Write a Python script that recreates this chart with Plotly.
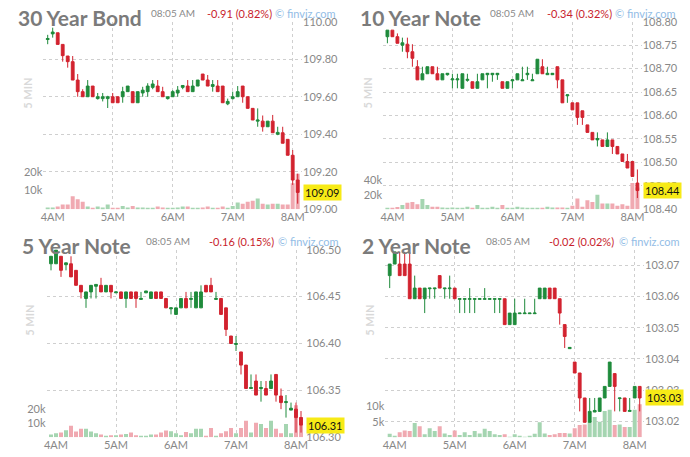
import pandas as pd
import plotly.graph_objects as go

# ---------------- data ----------------
times = pd.date_range("2024-01-02 03:55", periods=51, freq="5min")
hour_ticks = list(pd.date_range("2024-01-02 04:00", periods=5, freq="60min"))
hour_labels = ["4AM", "5AM", "6AM", "7AM", "8AM"]
x_range = ["2024-01-02 03:50:36", "2024-01-02 08:09:18"]

names = ["30 Year Bond", "10 Year Note", "5 Year Note", "2 Year Note"]
stamp = "08:05 AM"
changes = ["-0.91 (0.82%)", "-0.34 (0.32%)", "-0.16 (0.15%)", "-0.02 (0.02%)"]

b30_open = [109.905,109.935,109.941,109.879,109.817,109.787,109.689,109.627,109.600,109.657,
 109.590,109.590,109.590,109.600,109.600,109.600,109.627,109.627,109.568,109.620,
 109.627,109.650,109.657,109.627,109.590,109.600,109.620,109.650,109.657,109.627,
 109.657,109.721,109.689,109.655,109.657,109.657,109.562,109.590,109.600,109.657,
 109.600,109.538,109.470,109.470,109.440,109.470,109.400,109.408,109.373,109.288,109.156]
b30_high = [109.930,109.968,109.941,109.879,109.817,109.817,109.721,109.640,109.689,109.657,
 109.620,109.620,109.605,109.620,109.600,109.653,109.657,109.627,109.627,109.653,
 109.672,109.689,109.689,109.653,109.600,109.635,109.657,109.660,109.689,109.689,
 109.689,109.721,109.716,109.689,109.689,109.657,109.590,109.627,109.657,109.657,
 109.600,109.538,109.538,109.500,109.470,109.503,109.440,109.440,109.373,109.316,109.190]
b30_low = [109.880,109.915,109.879,109.787,109.755,109.689,109.600,109.600,109.600,109.600,
 109.585,109.575,109.540,109.568,109.568,109.568,109.627,109.568,109.568,109.600,
 109.600,109.640,109.627,109.600,109.585,109.600,109.600,109.640,109.627,109.627,
 109.657,109.689,109.657,109.627,109.627,109.568,109.555,109.585,109.600,109.568,
 109.538,109.476,109.440,109.414,109.440,109.408,109.395,109.352,109.288,109.130,109.030]
b30_close = [109.910,109.945,109.879,109.819,109.787,109.689,109.627,109.600,109.657,109.600,
 109.600,109.600,109.600,109.568,109.568,109.627,109.657,109.568,109.627,109.635,
 109.657,109.668,109.627,109.600,109.600,109.627,109.635,109.660,109.627,109.657,
 109.689,109.689,109.657,109.665,109.627,109.568,109.575,109.600,109.627,109.600,
 109.538,109.476,109.476,109.440,109.470,109.408,109.410,109.352,109.288,109.156,109.090]
b30_vol = [1000,1000,1500,2500,2500,7000,5300,4000,1500,800,
 1500,1000,2500,400,400,1800,1000,1800,1000,1000,
 400,400,1500,1000,400,700,1000,1500,1500,700,
 400,1000,1500,400,700,1500,400,1800,3600,2900,
 4000,4600,5700,2900,2500,2900,2900,2500,2500,13900,18900]

b10_open = [108.768,108.782,108.768,108.750,108.752,108.736,108.704,108.676,108.689,108.704,
 108.689,108.676,108.687,108.676,108.676,108.658,108.675,108.672,108.658,108.676,
 108.687,108.687,108.687,108.672,108.658,108.674,108.676,108.674,108.687,108.674,
 108.689,108.704,108.687,108.687,108.704,108.676,108.642,108.627,108.627,108.610,
 108.580,108.564,108.548,108.548,108.534,108.548,108.534,108.518,108.502,108.502,108.456]
b10_high = [108.782,108.782,108.775,108.766,108.766,108.752,108.718,108.704,108.704,108.704,
 108.704,108.689,108.690,108.689,108.689,108.689,108.689,108.672,108.689,108.689,
 108.690,108.690,108.690,108.672,108.672,108.676,108.689,108.704,108.704,108.689,
 108.720,108.720,108.704,108.690,108.704,108.676,108.644,108.627,108.627,108.610,
 108.580,108.564,108.564,108.548,108.564,108.548,108.534,108.518,108.518,108.502,108.485]
b10_low = [108.754,108.768,108.754,108.736,108.722,108.704,108.676,108.676,108.689,108.689,
 108.676,108.676,108.685,108.658,108.658,108.658,108.672,108.658,108.658,108.676,
 108.658,108.672,108.676,108.658,108.658,108.658,108.676,108.674,108.676,108.674,
 108.689,108.689,108.687,108.687,108.658,108.627,108.627,108.612,108.580,108.580,
 108.564,108.548,108.534,108.534,108.534,108.518,108.518,108.502,108.488,108.470,108.424]
b10_close = [108.782,108.768,108.754,108.755,108.736,108.722,108.676,108.689,108.704,108.689,
 108.676,108.689,108.690,108.678,108.678,108.689,108.677,108.658,108.672,108.689,
 108.690,108.690,108.690,108.658,108.672,108.676,108.689,108.676,108.690,108.676,
 108.720,108.689,108.690,108.690,108.676,108.627,108.644,108.612,108.596,108.596,
 108.564,108.548,108.551,108.534,108.548,108.534,108.518,108.502,108.488,108.470,108.440]
b10_vol = [1000,1500,3000,6000,9000,10000,7000,14000,6000,3500,
 3500,2500,1500,2500,1000,1500,3500,1500,6000,1000,
 1000,3500,1500,6000,1000,1500,3500,2500,1500,1500,
 1000,1000,3500,2500,2500,2500,1000,5000,15000,3500,
 12500,10000,20000,8000,8000,8000,5000,7000,5000,36000,30000]

b5_open = [106.485,106.485,106.493,106.484,106.485,106.478,106.462,106.448,106.455,106.461,
 106.462,106.455,106.462,106.454,106.455,106.448,106.455,106.455,106.447,106.454,
 106.448,106.455,106.455,106.448,106.437,106.431,106.438,106.448,106.447,106.438,
 106.438,106.462,106.462,106.447,106.448,106.438,106.408,106.399,106.391,106.377,
 106.352,106.360,106.352,106.352,106.352,106.367,106.344,106.337,106.329,106.330,106.321]
b5_high = [106.493,106.501,106.493,106.486,106.493,106.478,106.462,106.455,106.462,106.463,
 106.470,106.462,106.462,106.455,106.455,106.455,106.455,106.455,106.455,106.456,
 106.455,106.455,106.455,106.448,106.438,106.438,106.448,106.455,106.455,106.455,
 106.462,106.462,106.470,106.455,106.448,106.438,106.408,106.408,106.391,106.377,
 106.367,106.367,106.360,106.360,106.367,106.367,106.352,106.345,106.337,106.337,106.328]
b5_low = [106.478,106.485,106.471,106.478,106.471,106.462,106.448,106.438,106.448,106.448,
 106.455,106.455,106.448,106.454,106.448,106.438,106.448,106.438,106.447,106.454,
 106.448,106.448,106.448,106.438,106.431,106.431,106.438,106.438,106.438,106.438,
 106.438,106.455,106.455,106.447,106.431,106.408,106.400,106.392,106.367,106.352,
 106.352,106.345,106.338,106.345,106.352,106.338,106.330,106.321,106.329,106.305,106.305]
b5_close = [106.493,106.500,106.478,106.486,106.471,106.462,106.455,106.455,106.462,106.463,
 106.455,106.462,106.455,106.455,106.448,106.455,106.448,106.448,106.448,106.456,
 106.455,106.448,106.448,106.438,106.438,106.438,106.448,106.438,106.448,106.455,
 106.455,106.455,106.455,106.448,106.431,106.415,106.400,106.400,106.377,106.352,
 106.353,106.345,106.353,106.345,106.360,106.345,106.337,106.338,106.331,106.321,106.313]
b5_vol = [1900,2800,3300,5000,8000,4000,6000,6000,4000,2800,
 1900,500,1400,1400,1900,2300,3300,1400,900,500,
 1900,1900,3300,4700,4200,2800,1400,3700,2800,6000,
 6000,500,6500,500,2800,4200,6500,2800,6500,11600,
 3300,10200,9300,6500,11600,6000,2800,9300,2800,22300,14200]

b2_open = [103.0667,103.0704,103.0704,103.0704,103.0704,103.0593,103.0627,103.0593,103.0625,103.0625,
 103.0667,103.0625,103.0625,103.0627,103.0591,103.0591,103.0591,103.0591,103.0591,103.0591,
 103.0591,103.0591,103.0591,103.0593,103.0510,103.0510,103.0545,103.0545,103.0545,103.0545,
 103.0593,103.0593,103.0627,103.0627,103.0593,103.0510,103.0433,103.0390,103.0355,103.0275,
 103.0197,103.0230,103.0232,103.0275,103.0312,103.0353,103.0273,103.0275,103.0232,103.0275,103.0312]
b2_high = [103.0704,103.0743,103.0743,103.0743,103.0743,103.0667,103.0627,103.0627,103.0627,103.0627,
 103.0667,103.0627,103.0667,103.0627,103.0593,103.0593,103.0627,103.0593,103.0593,103.0627,
 103.0593,103.0593,103.0593,103.0593,103.0547,103.0593,103.0547,103.0593,103.0547,103.0593,
 103.0627,103.0627,103.0627,103.0627,103.0593,103.0510,103.0437,103.0390,103.0355,103.0275,
 103.0275,103.0275,103.0275,103.0312,103.0390,103.0353,103.0275,103.0275,103.0275,103.0312,103.0312]
b2_low = [103.0627,103.0704,103.0667,103.0667,103.0593,103.0593,103.0593,103.0547,103.0593,103.0593,
 103.0627,103.0593,103.0593,103.0593,103.0547,103.0547,103.0547,103.0547,103.0591,103.0591,
 103.0591,103.0547,103.0547,103.0510,103.0510,103.0510,103.0545,103.0545,103.0545,103.0545,
 103.0593,103.0593,103.0593,103.0593,103.0510,103.0435,103.0433,103.0355,103.0232,103.0197,
 103.0197,103.0230,103.0232,103.0275,103.0312,103.0232,103.0232,103.0232,103.0232,103.0275,103.0232]
b2_close = [103.0704,103.0743,103.0667,103.0667,103.0593,103.0627,103.0593,103.0627,103.0627,103.0627,
 103.0627,103.0627,103.0627,103.0593,103.0593,103.0593,103.0593,103.0593,103.0593,103.0593,
 103.0593,103.0593,103.0593,103.0510,103.0547,103.0547,103.0547,103.0547,103.0547,103.0547,
 103.0627,103.0627,103.0593,103.0593,103.0547,103.0472,103.0437,103.0355,103.0275,103.0197,
 103.0232,103.0235,103.0275,103.0312,103.0390,103.0312,103.0275,103.0232,103.0235,103.0312,103.0275]
b2_vol = [1100,300,1600,2200,2000,4600,3500,1000,2900,2000,
 3500,1200,700,2200,700,1600,700,2000,1200,2700,
 2000,1000,700,1000,100,1000,300,100,500,1100,
 4800,1200,700,1000,1400,1400,1200,2900,3900,4100,
 4800,6500,5000,8400,8800,3900,4100,3300,3300,8800,10600]

price_ticks_30 = [109.0, 109.2, 109.4, 109.6, 109.8, 110.0]
price_ticks_10 = [108.40, 108.45, 108.50, 108.55, 108.60, 108.65, 108.70, 108.75, 108.80]
price_ticks_5 = [106.30, 106.35, 106.40, 106.45, 106.50]
price_ticks_2 = [103.02, 103.03, 103.04, 103.05, 103.06, 103.07]
price_ranges = [[109.0, 110.0], [108.40, 108.80], [106.30, 106.50], [103.0149, 103.075]]

vol_ticks = [[10000, 20000], [20000, 40000], [10000, 20000], [5000, 10000]]
vol_labels = [["10k", "20k"], ["20k", "40k"], ["10k", "20k"], ["5k", "10k"]]
vol_ranges = [[0, 100000], [0, 258000], [0, 131000], [0, 60000]]

# ---------------- style ----------------
W, H = 690, 457
GREEN = "#1f8b3c"
RED = "#d2232f"
VGREEN = "#a5d5b1"
VRED = "#f0a9b1"
GRID = "#cfcfcf"
TXT = "#888888"
FONT = "Lato"

# panel geometry in pixels: left, right, top, bottom
geo = [(43.3, 302.0, 21.7, 209.3), (383.0, 641.7, 21.7, 209.3),
       (46.6, 305.3, 249.7, 437.3), (385.3, 644.0, 249.7, 437.3)]
# header text positions: title-left, time-center, change-center, finviz-center, 5MIN x, row top
hdr = [(16, 173, 239, 305.5, 28, 0), (358, 511.7, 579, 645.8, 367.7, 0),
       (20, 167.7, 241.7, 308.8, 30, 228), (360, 507.7, 581.7, 649.2, 370, 228)]

panels = [
    (b30_open, b30_high, b30_low, b30_close, b30_vol, price_ticks_30),
    (b10_open, b10_high, b10_low, b10_close, b10_vol, price_ticks_10),
    (b5_open, b5_high, b5_low, b5_close, b5_vol, price_ticks_5),
    (b2_open, b2_high, b2_low, b2_close, b2_vol, price_ticks_2),
]

fx = lambda p: p / W
fy = lambda p: 1 - p / H

fig = go.Figure()
layout = dict(width=W, height=H, margin=dict(l=0, r=0, t=0, b=0, autoexpand=False),
              paper_bgcolor="white", plot_bgcolor="white", showlegend=False,
              bargap=0.2, boxgap=0.2, font=dict(family=FONT, color=TXT, size=11))
annotations = []

for k, (o, h, l, c, v, pticks) in enumerate(panels):
    n = k + 1
    xa = "x" if n == 1 else f"x{n}"
    ya_v = "y" if n == 1 else f"y{2*n-1}"
    ya_p = f"y{2*n}"
    x0, x1, t, b = geo[k]
    vcol = [VGREEN if cc >= oo else VRED for oo, cc in zip(o, c)]
    fig.add_trace(go.Bar(x=times, y=v, marker=dict(color=vcol, line=dict(width=0)),
                         xaxis=xa, yaxis=ya_v, hoverinfo="skip"))
    fig.add_trace(go.Candlestick(x=times, open=o, high=h, low=l, close=c,
                                 xaxis=xa, yaxis=ya_p, whiskerwidth=0,
                                 increasing=dict(line=dict(color=GREEN, width=1), fillcolor=GREEN),
                                 decreasing=dict(line=dict(color=RED, width=1), fillcolor=RED)))
    xkey = "xaxis" if n == 1 else f"xaxis{n}"
    layout[xkey] = dict(domain=[fx(x0), fx(x1)], range=x_range, anchor=ya_v,
                        tickmode="array", tickvals=hour_ticks, ticktext=hour_labels,
                        showgrid=False, zeroline=False, showline=False, ticks="",
                        tickfont=dict(family=FONT, size=11, color=TXT),
                        rangeslider=dict(visible=False), automargin=False,
                        minor=dict(tickmode="array", tickvals=[x_range[0]] + hour_ticks[1:],
                                   showgrid=True, gridcolor=GRID, griddash="3px,3px",
                                   gridwidth=1, ticks=""))
    vkey = "yaxis" if n == 1 else f"yaxis{2*n-1}"
    layout[vkey] = dict(domain=[fy(b), fy(t)], range=vol_ranges[k], anchor=xa, side="left",
                        tickmode="array", tickvals=vol_ticks[k], ticktext=vol_labels[k],
                        showgrid=False, zeroline=False, showline=False, ticks="",
                        automargin=False,
                        tickfont=dict(family=FONT, size=11, color=TXT), fixedrange=True)
    pkey = f"yaxis{2*n}"
    layout[pkey] = dict(domain=[fy(b), fy(t)], range=price_ranges[k], anchor=xa,
                        overlaying=ya_v, side="right", automargin=False,
                        tickmode="array", tickvals=pticks,
                        ticktext=[f"{p:.2f}" for p in pticks],
                        showgrid=True, gridcolor=GRID, griddash="3px,3px", gridwidth=1,
                        zeroline=False, showline=False, ticks="",
                        tickfont=dict(family=FONT, size=11, color=TXT))

    tl, tc, cc_, fc, mx, row = hdr[k]
    annotations += [
        dict(text=f"<b>{names[k]}</b>", x=fx(tl), y=fy(row + 17.5), xref="paper", yref="paper",
             xanchor="left", yanchor="middle", showarrow=False,
             font=dict(family=FONT, size=21, color="#7b7b7b")),
        dict(text=stamp, x=fx(tc), y=fy(row + 13.3), xref="paper", yref="paper",
             xanchor="center", yanchor="middle", showarrow=False,
             font=dict(family=FONT, size=10, color="#8a8a8a")),
        dict(text=changes[k], x=fx(cc_), y=fy(row + 13.3), xref="paper", yref="paper",
             xanchor="center", yanchor="middle", showarrow=False,
             font=dict(family=FONT, size=11, color="#c81e2d")),
        dict(text="© finviz.com", x=fx(fc), y=fy(row + 13.3), xref="paper", yref="paper",
             xanchor="center", yanchor="middle", showarrow=False,
             font=dict(family=FONT, size=11, color="#93bde6")),
        dict(text="<b>5 MIN</b>", x=fx(mx), y=fy(row + 92.7), xref="paper", yref="paper",
             xanchor="center", yanchor="middle", showarrow=False, textangle=-90,
             font=dict(family=FONT, size=11, color="#d9d9d9")),
        dict(text=f"{c[-1]:.2f}", x=1, y=c[-1], xref=f"{xa} domain", yref=ya_p,
             xanchor="left", yanchor="middle", showarrow=False, xshift=1,
             bgcolor="#f7ea16", borderpad=1,
             font=dict(family=FONT, size=11, color="#111111")),
    ]

layout["annotations"] = annotations
fig.update_layout(**layout)
fig.write_html("out.html", config={"displayModeBar": False},
               post_script="document.body.style.margin='0';document.body.style.padding='0';")
